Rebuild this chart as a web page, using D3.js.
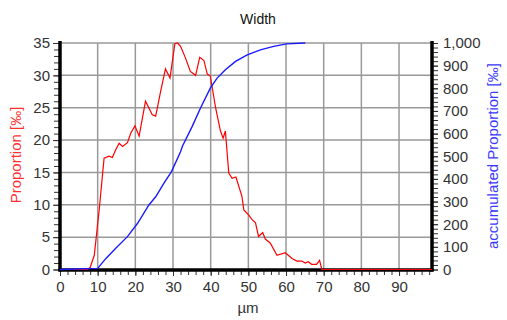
<!DOCTYPE html>
<html>
<head>
<meta charset="utf-8">
<script src="https://cdn.jsdelivr.net/npm/d3@7"></script>
<style>
  body { margin: 0; background: #fff; }
  text { font-family: "Liberation Sans", Arial, sans-serif; }
</style>
</head>
<body>
<div id="chart"></div>
<script>
const width = 507;
const height = 320;

// proportion per size (µm, ‰) - red curve
const sizeRed = [0, 7.3, 8, 9.1, 10.4, 11.7, 13, 13.9, 14.8, 15.7, 16.6, 17.9, 18.8, 19.9, 21, 22.7, 24.5, 25.4,
    26.7, 28, 29.2, 30.5, 31.2, 32, 33.3, 34.6, 36, 37.1, 38.2, 39.1, 39.9, 41.3, 42.6, 43.3, 43.9, 44.8, 45.7,
    46.7, 48.3, 48.8, 50.1, 51, 51.9, 52.7, 53.8, 54.5, 55.8, 57.6, 59.8, 61.6, 62.9, 64.2, 65.1, 65.9, 66.8,
    68.1, 68.9, 69.5, 98.7];
const proportion = [0, 0, 0.3, 2.2, 9.2, 17.2, 17.5, 17.3, 18.5, 19.5, 19.0, 19.6, 21.1, 22.2, 20.6, 26.0, 23.9, 23.7,
    27.5, 31.0, 29.6, 34.9, 35.0, 34.5, 32.7, 30.6, 30.0, 32.8, 32.3, 30.2, 29.9, 25.0, 21.4, 20.3, 21.4, 14.9, 14.1,
    14.3, 11.3, 9.2, 8.4, 7.7, 7.2, 5.1, 5.7, 4.7, 4.1, 2.2, 2.6, 1.7, 1.3, 1.3, 1.0, 1.2, 0.8,
    0.8, 1.4, 0, 0];

// accumulated proportion (µm, ‰) - blue curve
const sizeBlue = [0, 10, 12.2, 14.8, 17.9, 20.6, 23.6, 25.4, 27.6, 29.6, 32, 32.5, 35.1, 37.3, 39.9, 41.7, 43.9,
    46.6, 49.7, 53.2, 56.7, 60.2, 65.1];
const accumulated = [0, 5, 49, 94, 145, 204, 285, 321, 381, 432, 520, 544, 632, 713, 801, 845, 882,
    919, 948, 970, 985, 996, 1000];

const xTicks = [0, 10, 20, 30, 40, 50, 60, 70, 80, 90];
const yLeftTicks = [0, 5, 10, 15, 20, 25, 30, 35];
const yRightTicks = [0, 100, 200, 300, 400, 500, 600, 700, 800, 900, 1000];

const svg = d3.select("#chart")
    .append("svg")
    .attr("width", width)
    .attr("height", height);

const x = d3.scaleLinear().domain([0, 98.75]).range([60, 432]);
const yL = d3.scaleLinear().domain([0, 35]).range([269.5, 43]);
const yR = d3.scaleLinear().domain([0, 1000]).range([269.5, 43]);

// grid
svg.append("g").selectAll("line").data(xTicks.slice(1))
    .enter().append("line")
    .attr("x1", d => x(d)).attr("x2", d => x(d))
    .attr("y1", yL(35)).attr("y2", yL(0))
    .attr("stroke", "#999").attr("stroke-width", 1.5);

svg.append("g").selectAll("line").data(yLeftTicks.slice(1))
    .enter().append("line")
    .attr("x1", x(0)).attr("x2", x.range()[1])
    .attr("y1", d => yL(d)).attr("y2", d => yL(d))
    .attr("stroke", "#999").attr("stroke-width", 1.5);

// minor ticks
const minorX = d3.range(0, 99, 2);
const minorL = d3.range(0, 36, 1);
const minorR = d3.range(0, 1001, 20);

function styleAxis(g) {
    g.select(".domain").remove();
    g.selectAll("line").attr("stroke", "#333");
    g.selectAll("text").attr("fill", "#333").style("font-size", "15px");
}

svg.append("g").attr("transform", "translate(0,270)")
    .call(d3.axisBottom(x).tickValues(minorX).tickFormat("").tickSize(5))
    .call(styleAxis);
svg.append("g").attr("transform", "translate(60,0)")
    .call(d3.axisLeft(yL).tickValues(minorL).tickFormat("").tickSize(6))
    .call(styleAxis);
svg.append("g").attr("transform", "translate(432,0)")
    .call(d3.axisRight(yR).tickValues(minorR).tickFormat("").tickSize(6))
    .call(styleAxis);

// major axes
svg.append("g").attr("transform", "translate(0,270)")
    .call(d3.axisBottom(x).tickValues(xTicks).tickSize(6).tickPadding(5))
    .call(styleAxis);
svg.append("g").attr("transform", "translate(60,0)")
    .call(d3.axisLeft(yL).tickValues(yLeftTicks).tickSize(7).tickPadding(3))
    .call(styleAxis);
svg.append("g").attr("transform", "translate(432,0)")
    .call(d3.axisRight(yR).tickValues(yRightTicks).tickFormat(d3.format(",")).tickSize(6).tickPadding(5))
    .call(styleAxis);

// thick axis lines
svg.append("line").attr("x1", 58.5).attr("x2", 433.5).attr("y1", 270).attr("y2", 270)
    .attr("stroke", "#000").attr("stroke-width", 3.5);
svg.append("line").attr("x1", 60).attr("x2", 60).attr("y1", 41).attr("y2", 271.5)
    .attr("stroke", "#000").attr("stroke-width", 3.5);
svg.append("line").attr("x1", 432).attr("x2", 432).attr("y1", 41).attr("y2", 271.5)
    .attr("stroke", "#000").attr("stroke-width", 3.5);

// curves
const redLine = d3.line().x((d, i) => x(sizeRed[i])).y(d => yL(d));
svg.append("path").datum(proportion)
    .attr("d", redLine)
    .attr("fill", "none").attr("stroke", "#ff0000").attr("stroke-width", 1.2);

const blueLine = d3.line().x((d, i) => x(sizeBlue[i])).y(d => yR(d));
svg.append("path").datum(accumulated)
    .attr("d", blueLine)
    .attr("fill", "none").attr("stroke", "#1a1aff").attr("stroke-width", 1.4);

// titles
svg.append("text").attr("x", 258).attr("y", 24).attr("text-anchor", "middle")
    .style("font-size", "14px").attr("fill", "#111").text("Width");
svg.append("text").attr("x", 248).attr("y", 313).attr("text-anchor", "middle")
    .style("font-size", "15px").attr("fill", "#333").text("µm");
svg.append("text").attr("transform", "translate(21,155) rotate(-90)").attr("text-anchor", "middle")
    .style("font-size", "15px").attr("fill", "#ff3030").text("Proportion [‰]");
svg.append("text").attr("transform", "translate(498,156) rotate(-90)").attr("text-anchor", "middle")
    .style("font-size", "15px").attr("fill", "#3a3aff").text("accumulated Proportion [‰]");
</script>
</body>
</html>
